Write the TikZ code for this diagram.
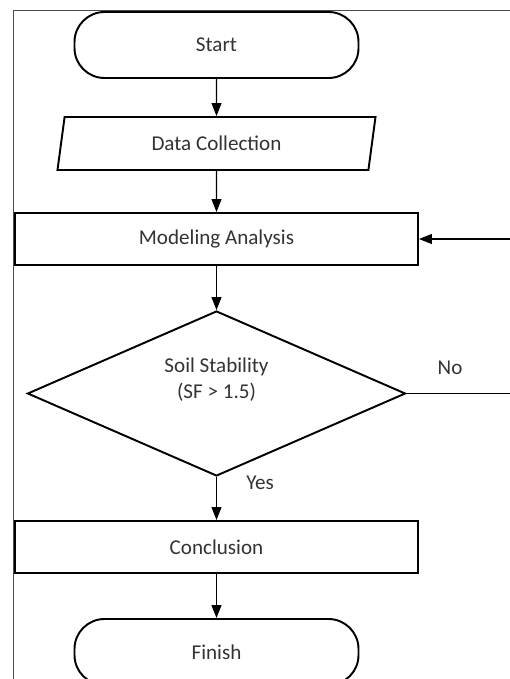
\documentclass[tikz,border=0pt]{standalone}
\usepackage{fontspec}
\setmainfont{Carlito}
\usetikzlibrary{shapes.geometric, arrows.meta}

\begin{document}
\begin{tikzpicture}[
  terminal/.style={draw, line width=1.1pt, rounded corners=0.6cm, minimum width=5.68cm, minimum height=1.32cm},
  io/.style={draw, line width=1.1pt, trapezium, trapezium left angle=75, trapezium right angle=105, trapezium stretches body, minimum width=6.36cm, minimum height=1.06cm},
  process/.style={draw, line width=1.1pt, minimum width=8.06cm, minimum height=1.04cm},
  decision/.style={draw, line width=1.1pt, diamond, shape aspect=2.3, minimum width=7.56cm, minimum height=3.3cm, align=center, inner sep=0pt, text depth=0.62cm},
  flow/.style={-{Triangle[width=0.2cm,length=0.26cm]}, line width=0.6pt},
  font=\fontsize{12}{14.5}\selectfont, text=black!80]
\useasboundingbox (0,0) rectangle (10.2,-13.58);
\draw[black!70, line width=0.5pt] (0.26,-13.58) -- (0.26,-0.2) -- (10.2,-0.2);

\node [terminal] (start) at (4.33,-0.9) {Start};
\node [io] (data) at (4.33,-2.87) {Data Collection};
\node [process] (model) at (4.33,-4.78) {Modeling Analysis};
\node [decision] (soil) at (4.33,-7.87) {Soil Stability\\(SF > 1.5)};
\node [process] (concl) at (4.33,-10.94) {Conclusion};
\node [terminal] (finish) at (4.33,-13.04) {Finish};
\coordinate (fb) at (10.2,-4.78);
\coordinate (no) at (10.2,-7.87);
\node (nolabel) at (9.0,-7.36) {No};
\node (yeslabel) at (5.2,-9.66) {Yes};

\draw[flow] (start) -- (data);
\draw[flow] (data) -- (model);
\draw[flow] (fb) -- (model);
\draw[flow] (model) -- (soil);
\draw[line width=0.6pt] (soil) -- (no);
\draw[flow] (soil) -- (concl);
\draw[flow] (concl) -- (finish);
\end{tikzpicture}
\end{document}
